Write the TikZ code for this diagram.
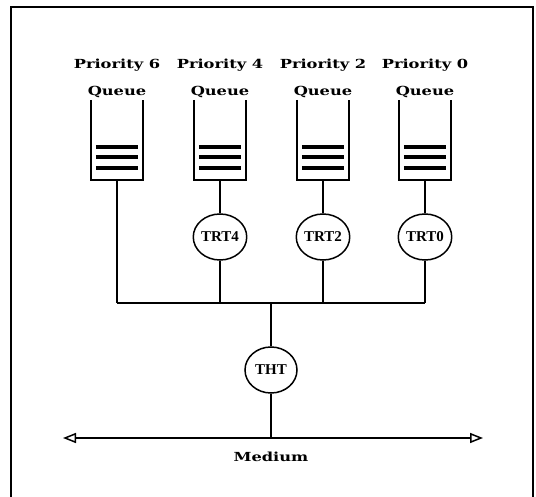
\documentclass[tikz,border=0pt]{standalone}
\usepackage{fontspec}
\usetikzlibrary{arrows.meta,shapes.geometric}
\newfontfamily\labfont{DejaVu Serif}[FakeStretch=1.3]
\newfontfamily\circfont{Liberation Serif}
\begin{document}
\begin{tikzpicture}[x=1pt,y=-1pt,
  ln/.style={line width=1.5pt},
  qbox/.style={minimum width=52pt,minimum height=80pt,inner sep=0pt},
  bar/.style={line width=4pt},
  lab/.style={font=\labfont\bfseries\fontsize{12.5}{14}\selectfont,inner sep=0pt},
  tmr/.style={ellipse,draw,line width=1.5pt,minimum width=52pt,minimum height=46pt,inner sep=0pt,font=\circfont\bfseries\fontsize{15}{17}\selectfont},
]
\useasboundingbox (0,0) rectangle (536,497);
% frame
\draw[ln] (11,500) -- (11,7) -- (533,7) -- (533,500);
% queues
\foreach \i/\x/\p in {1/117/6,2/220/4,3/323/2,4/425/0}{
  \node[lab] (p\i) at (\x,65) {Priority \p};
  \node[lab] (ql\i) at (\x,92) {Queue};
  \node[qbox] (q\i) at (\x,140) {};
  \draw[ln] (q\i.north west) -- (q\i.south west) -- (q\i.south east) -- (q\i.north east);
  \draw[bar] ([xshift=5pt,yshift=-7pt]q\i.west) -- ([xshift=-5pt,yshift=-7pt]q\i.east);
  \draw[bar] ([xshift=5pt,yshift=-17pt]q\i.west) -- ([xshift=-5pt,yshift=-17pt]q\i.east);
  \draw[bar] ([xshift=5pt,yshift=-28pt]q\i.west) -- ([xshift=-5pt,yshift=-28pt]q\i.east);
}
\node[tmr] (t4) at (220,237) {TRT4};
\node[tmr] (t2) at (323,237) {TRT2};
\node[tmr] (t0) at (425,237) {TRT0};
\node[tmr] (tht) at (271,370) {THT};
\coordinate (b1) at (117,303);
\coordinate (b4) at (425,303);
\coordinate (bc) at (271,303);
\coordinate (aL) at (63,438);
\coordinate (aR) at (483,438);
\coordinate (am) at (271,438);
\draw[ln] (q1.south) -- (b1);
\draw[ln] (q2.south) -- (t4.north);
\draw[ln] (q3.south) -- (t2.north);
\draw[ln] (q4.south) -- (t0.north);
\draw[ln] (t4.south) -- (t4.south |- b1);
\draw[ln] (t2.south) -- (t2.south |- b1);
\draw[ln] (t0.south) -- (b4);
\draw[ln] (b1) -- (b4);
\draw[ln] (bc) -- (tht.north);
\draw[ln] (tht.south) -- (am);
\draw[ln,{Triangle[open,length=13pt,width=10pt]}-{Triangle[open,length=13pt,width=10pt]}] (aL) -- (aR);
\node[lab] (med) at (271,457) {Medium};
\end{tikzpicture}
\end{document}
